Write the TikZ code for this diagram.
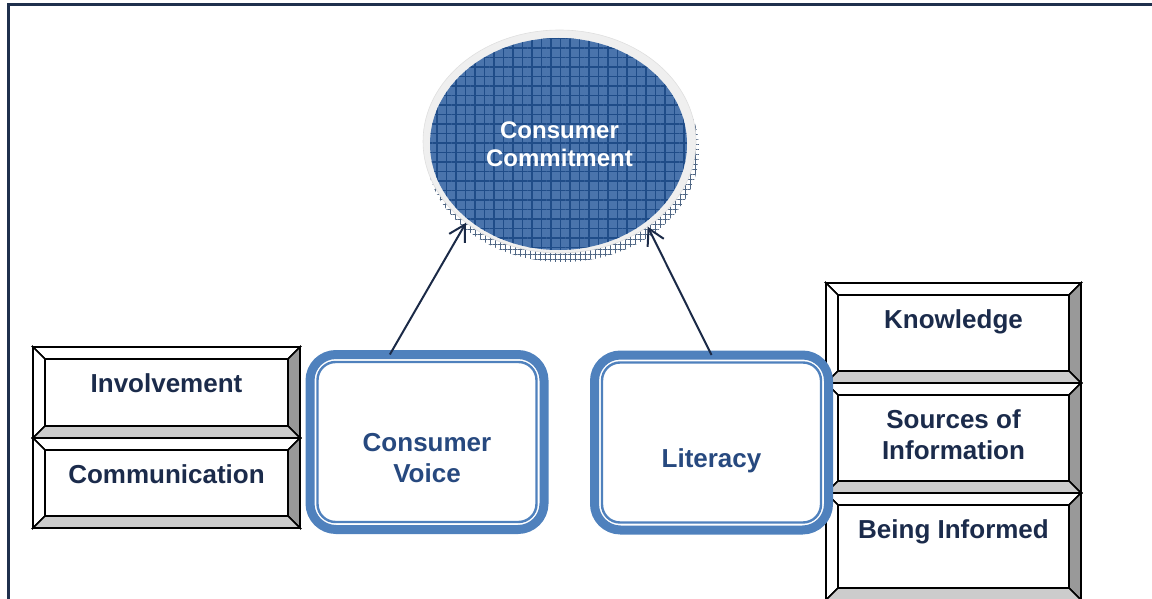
\documentclass[tikz,border=0pt]{standalone}
\usepackage{fontspec}
\setmainfont{Liberation Sans}
\usetikzlibrary{arrows,arrows.meta,shapes.geometric,patterns.meta}
\definecolor{frameNavy}{HTML}{1F304D}
\definecolor{textNavy}{HTML}{1B2B4B}
\definecolor{arrowNavy}{HTML}{1B2A47}
\definecolor{boxBlue}{HTML}{4F81BD}
\definecolor{voiceBlue}{HTML}{27497F}
\definecolor{ellBlue}{HTML}{4A74AC}
\definecolor{gridBlue}{HTML}{1F4C88}
\definecolor{ringGray}{HTML}{EFEFEF}
\definecolor{bevelDark}{HTML}{999999}
\definecolor{bevelLight}{HTML}{CCCCCC}
\newcommand{\bevelSize}{12}
% #1 name, (#2,#3) top left, (#4,#5) bottom right, #6 text
\newcommand{\bevelBox}[6]{
  \filldraw[bevel, fill=white] (#2,#3) rectangle (#4,#5);
  \filldraw[bevel, fill=white] (#2,#3) -- (#4,#3) -- ({#4-\bevelSize},{#3+\bevelSize}) -- ({#2+\bevelSize},{#3+\bevelSize}) -- cycle;
  \filldraw[bevel, fill=white] (#2,#3) -- ({#2+\bevelSize},{#3+\bevelSize}) -- ({#2+\bevelSize},{#5-\bevelSize}) -- (#2,#5) -- cycle;
  \filldraw[bevel, fill=bevelDark] (#4,#3) -- (#4,#5) -- ({#4-\bevelSize},{#5-\bevelSize}) -- ({#4-\bevelSize},{#3+\bevelSize}) -- cycle;
  \filldraw[bevel, fill=bevelLight] (#2,#5) -- (#4,#5) -- ({#4-\bevelSize},{#5-\bevelSize}) -- ({#2+\bevelSize},{#5-\bevelSize}) -- cycle;
  \node[boxtext] (#1) at ({(#2+#4)/2},{#3+26}) {#6};
}
\tikzset{
  bevel/.style={draw=black, line width=0.8pt, line join=miter},
  boxtext/.style={anchor=north, inner sep=0pt, align=center, text=textNavy,
    font=\fontsize{13}{15.5}\selectfont\bfseries},
  roundbox/.style={draw=boxBlue, fill=white, line width=4.5pt, rounded corners=13pt,
    outer sep=0pt, minimum width=117pt, minimum height=87.5pt},
  roundtext/.style={inner sep=0pt, align=center, text=voiceBlue,
    font=\fontsize{13}{15.5}\selectfont\bfseries},
  conn/.style={->, line width=1pt, draw=arrowNavy},
}
\begin{document}
\begin{tikzpicture}[x=0.5pt, y=-0.5pt, >={Straight Barb[length=8pt,width=9pt]}]
\useasboundingbox (0,0) rectangle (1152,599);
\draw[frameNavy, line width=1.5pt] (8,602) -- (8,5) -- (1155,5);
% shadow and ellipse
\fill[white] (562.5,150.5) ellipse [x radius=68.25pt, y radius=55.75pt];
\fill[pattern={Hatch[angle=0,distance=2.5pt,line width=0.35pt]}, pattern color=gridBlue!50!gray]
  (562.5,150.5) ellipse [x radius=68.25pt, y radius=55.75pt];
\node[ellipse, fill=ringGray, draw=gray!25, line width=0.3pt, outer sep=0pt,
  minimum width=136.5pt, minimum height=111.5pt,
  path picture={
    \fill[ellBlue] ([xshift=-0.5pt,yshift=-1.25pt]path picture bounding box.center)
      ellipse [x radius=64.25pt, y radius=53pt];
    \fill[pattern={Hatch[angle=0,distance=4.75pt,line width=0.6pt]}, pattern color=gridBlue]
      ([xshift=-0.5pt,yshift=-1.25pt]path picture bounding box.center)
      ellipse [x radius=64.25pt, y radius=53pt];
  }] (commit) at (559.5,141.5) {};
\node[inner sep=0pt, align=center, text=white, font=\fontsize{12}{14}\selectfont\bfseries]
  (committext) at ([yshift=-1.25pt]commit.center) {Consumer\\Commitment};
% left stack
\bevelBox{involve}{33}{347}{300}{438}{Involvement}
\bevelBox{communic}{33}{438}{300}{528}{Communication}
% right stack
\bevelBox{knowledge}{826}{283}{1081}{383}{Knowledge}
\bevelBox{sources}{826}{383}{1081}{493}{Sources of\\Information}
\bevelBox{informed}{826}{493}{1081}{600}{Being Informed}
% rounded boxes
\node[roundbox] (voice) at (427,442) {};
\draw[boxBlue, line width=1.2pt, rounded corners=9pt] ([xshift=3.75pt,yshift=-3.75pt]voice.north west) rectangle ([xshift=-3.75pt,yshift=3.75pt]voice.south east);
\node[roundtext] (voicetext) at ([yshift=-8pt]voice.center) {Consumer\\Voice};
\node[roundbox] (literacy) at (711.5,442.5) {};
\draw[boxBlue, line width=1.2pt, rounded corners=9pt] ([xshift=3.75pt,yshift=-3.75pt]literacy.north west) rectangle ([xshift=-3.75pt,yshift=3.75pt]literacy.south east);
\node[roundtext] (literacytext) at ([yshift=-9pt]literacy.center) {Literacy};
% arrows
\draw[conn] (voice.113) -- (commit.221);
\draw[conn] (literacy.north) -- (commit.316);
\end{tikzpicture}
\end{document}
